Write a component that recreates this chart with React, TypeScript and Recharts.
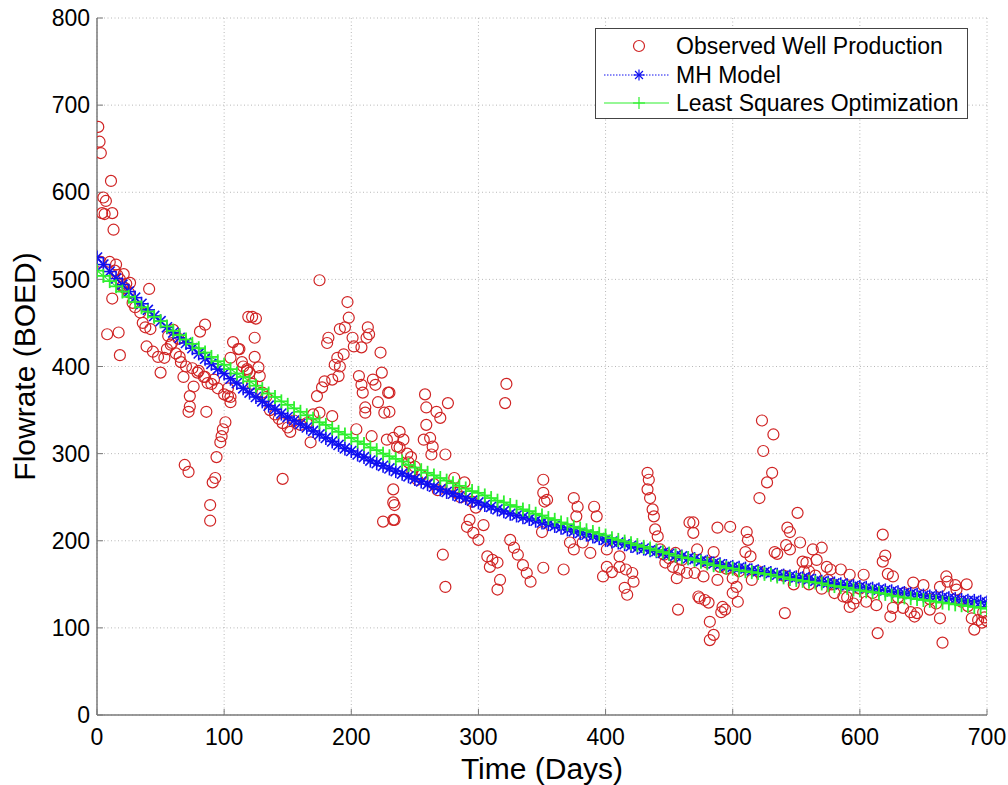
import React from 'react';
import { ComposedChart, Scatter, Line, XAxis, YAxis, CartesianGrid } from 'recharts';

// observed well production, [day, BOED]
const observed: [number, number][] = [
  [1, 675], [2, 658], [3, 645], [3, 520], [4, 576], [5, 594], [6, 575], [7, 590], [8, 437], [10, 520],
  [11, 613], [12, 576], [12, 478], [13, 557], [14, 510], [15, 517], [16, 505], [17, 439], [18, 500], [18, 413],
  [20, 492], [21, 506], [22, 490], [23, 495], [25, 485], [26, 496], [28, 473], [30, 468], [34, 462], [36, 450],
  [38, 445], [39, 423], [41, 489], [42, 443], [44, 417], [48, 411], [50, 393], [53, 410], [55, 420], [56, 435],
  [58, 425], [59, 427], [60, 442], [62, 415], [64, 432], [65, 411], [66, 405], [68, 388], [69, 287], [70, 400],
  [72, 279], [72, 348], [73, 366], [73, 354], [75, 398], [76, 377], [79, 393], [80, 395], [81, 440], [84, 388],
  [85, 448], [85, 388], [86, 348], [87, 381], [89, 241], [89, 223], [90, 380], [91, 267], [92, 385], [93, 272],
  [94, 296], [95, 375], [97, 313], [98, 320], [99, 328], [100, 368], [101, 336], [103, 375], [103, 366], [105, 365],
  [105, 410], [105, 359], [107, 428], [111, 420], [112, 420], [114, 405], [115, 400], [118, 397], [118, 395], [119, 457],
  [120, 393], [122, 457], [122, 380], [124, 433], [124, 411], [125, 455], [127, 399], [128, 389], [130, 370], [133, 365],
  [136, 350], [140, 345], [143, 340], [146, 335], [146, 271], [150, 330], [152, 325], [155, 338], [160, 333], [165, 335],
  [168, 313], [170, 345], [173, 366], [175, 347], [175, 499], [177, 376], [179, 383], [181, 427], [182, 433], [185, 385],
  [185, 343], [187, 402], [189, 410], [190, 389], [191, 400], [191, 443], [194, 414], [195, 445], [197, 474], [198, 456],
  [201, 433], [202, 423], [204, 328], [206, 389], [208, 379], [208, 422], [209, 370], [211, 353], [211, 347], [212, 433],
  [213, 445], [214, 437], [216, 320], [217, 385], [219, 379], [221, 359], [223, 416], [224, 393], [225, 222], [226, 347],
  [228, 316], [229, 370], [230, 370], [230, 348], [233, 318], [233, 259], [233, 244], [233, 224], [234, 241], [234, 224],
  [236, 308], [238, 325], [238, 307], [241, 316], [244, 300], [245, 290], [247, 296], [248, 280], [250, 285], [252, 270],
  [255, 275], [257, 316], [258, 368], [259, 353], [259, 333], [262, 318], [263, 299], [264, 308], [265, 265], [267, 348],
  [268, 258], [270, 341], [272, 184], [274, 299], [274, 147], [276, 358], [278, 262], [281, 272], [283, 255], [286, 250],
  [289, 267], [291, 216], [293, 224], [295, 245], [296, 209], [298, 238], [300, 201], [304, 218], [307, 182], [309, 170],
  [311, 178], [315, 175], [315, 144], [317, 155], [321, 358], [322, 380], [325, 201], [328, 192], [331, 184], [335, 172],
  [338, 163], [341, 153], [350, 210], [351, 270], [351, 255], [351, 169], [352, 245], [354, 247], [367, 167], [372, 198],
  [375, 249], [375, 190], [377, 228], [378, 239], [382, 198], [388, 186], [391, 239], [393, 228], [398, 159], [401, 190],
  [401, 170], [405, 164], [411, 182], [411, 170], [415, 146], [416, 167], [417, 138], [421, 163], [422, 153], [433, 278],
  [433, 259], [434, 270], [435, 249], [437, 236], [438, 228], [439, 213], [441, 205], [443, 190], [446, 184], [447, 175],
  [450, 180], [453, 170], [455, 186], [456, 157], [457, 121], [458, 167], [460, 178], [464, 163], [466, 221], [469, 209],
  [469, 221], [470, 163], [472, 190], [473, 136], [474, 134], [477, 159], [478, 132], [480, 175], [481, 129], [482, 107],
  [482, 86], [485, 187], [485, 92], [488, 215], [488, 155], [490, 170], [491, 118], [492, 124], [494, 121], [495, 168],
  [498, 216], [500, 157], [500, 140], [503, 147], [504, 130], [505, 165], [510, 187], [511, 210], [512, 201], [514, 182],
  [515, 155], [520, 165], [521, 249], [523, 338], [524, 303], [527, 267], [531, 278], [532, 322], [533, 187], [535, 185],
  [540, 160], [541, 117], [542, 195], [543, 215], [545, 210], [545, 190], [548, 150], [551, 232], [553, 198], [555, 176],
  [556, 165], [558, 175], [560, 165], [560, 150], [563, 190], [565, 160], [566, 178], [570, 192], [570, 145], [574, 170],
  [575, 155], [577, 167], [578, 150], [580, 140], [585, 167], [587, 136], [590, 135], [592, 161], [592, 124], [595, 128],
  [597, 134], [600, 145], [603, 161], [605, 130], [610, 140], [613, 126], [614, 94], [618, 207], [618, 176], [620, 183],
  [622, 162], [624, 113], [626, 159], [626, 123], [630, 135], [634, 123], [635, 140], [640, 118], [642, 152], [643, 113],
  [645, 117], [650, 149], [655, 121], [655, 133], [660, 128], [663, 147], [663, 111], [665, 83], [668, 159], [669, 153],
  [675, 149], [676, 144], [680, 130], [684, 150], [685, 125], [688, 111], [690, 98], [693, 109], [696, 106], [697, 118],
  [698, 112], [700, 108],
];

// model curves sampled every 5 days (0..700)
const modelDays = Array.from({ length: 141 }, (_, i) => i * 5);

const mhRates = [
  525, 517, 509, 501, 494, 486, 479, 472, 465, 458, 452, 445, 439, 433, 427, 421, 415, 409, 403, 397,
  392, 386, 381, 375, 370, 365, 360, 355, 351, 346, 342, 338, 334, 330, 326, 322, 318, 314, 310, 306,
  303, 299, 296, 292, 289, 286, 283, 280, 277, 274, 271, 268, 265, 262, 259, 256, 254, 251, 249, 246,
  244, 241, 239, 236, 234, 231, 229, 227, 225, 223, 221, 219, 217, 215, 213, 211, 209, 207, 205, 203,
  201, 199, 198, 196, 194, 192, 191, 189, 188, 186, 185, 183, 182, 180, 179, 177, 176, 174, 173, 171,
  170, 169, 168, 166, 165, 164, 163, 161, 160, 159, 158, 157, 156, 154, 153, 152, 151, 150, 149, 148,
  147, 146, 145, 144, 143, 142, 141, 140, 139, 138, 137, 136, 136, 135, 134, 133, 132, 131, 131, 130,
  129,
];

const lsRates = [
  510, 504, 498, 492, 486, 480, 474, 468, 463, 457, 452, 446, 441, 436, 431, 426, 421, 416, 411, 406,
  402, 397, 392, 388, 383, 378, 374, 369, 365, 360, 356, 352, 348, 344, 340, 336, 333, 329, 325, 322,
  318, 314, 311, 307, 304, 300, 297, 294, 291, 287, 284, 281, 278, 275, 272, 269, 266, 263, 260, 257,
  255, 252, 249, 246, 244, 241, 239, 236, 234, 231, 229, 226, 224, 221, 219, 216, 214, 212, 210, 208,
  206, 203, 201, 199, 197, 195, 193, 191, 189, 187, 185, 183, 181, 180, 178, 176, 174, 172, 171, 169,
  168, 166, 165, 164, 163, 162, 161, 159, 158, 156, 155, 154, 153, 152, 151, 149, 148, 147, 146, 144,
  143, 142, 141, 140, 139, 137, 136, 135, 134, 133, 132, 131, 130, 129, 128, 127, 126, 125, 124, 123,
  122,
];

const xTicks = [0, 100, 200, 300, 400, 500, 600, 700];
const yTicks = [0, 100, 200, 300, 400, 500, 600, 700, 800];

const obsData = observed.map(([day, q]) => ({ day, q }));
const mhData = modelDays.map((day, i) => ({ day, mh: mhRates[i] }));
const lsData = modelDays.map((day, i) => ({ day, ls: lsRates[i] }));

const RED = '#d02424';
const BLUE = '#1010f0';
const GREEN = '#2ef02e';
const AXIS = '#7a7a7a';
const FONT = 'Arial, "Liberation Sans", Helvetica, sans-serif';

const Circle = (p: any) => (
  <circle cx={p.cx} cy={p.cy} r={5.5} fill="none" stroke={RED} strokeWidth={1.2} />
);

const Star = ({ cx, cy, r = 7, w = 1.6 }: any) => {
  const d = r * 0.72;
  return (
    <g stroke={BLUE} strokeWidth={w}>
      <line x1={cx - r} y1={cy} x2={cx + r} y2={cy} />
      <line x1={cx} y1={cy - r} x2={cx} y2={cy + r} />
      <line x1={cx - d} y1={cy - d} x2={cx + d} y2={cy + d} />
      <line x1={cx - d} y1={cy + d} x2={cx + d} y2={cy - d} />
    </g>
  );
};

const Plus = ({ cx, cy, r = 7, w = 1.8 }: any) => (
  <g stroke={GREEN} strokeWidth={w}>
    <line x1={cx - r} y1={cy} x2={cx + r} y2={cy} />
    <line x1={cx} y1={cy - r} x2={cx} y2={cy + r} />
  </g>
);

const tickStyle = { fontSize: 23, fill: '#000', fontFamily: FONT };

const YLabel = ({ viewBox }: any) => {
  const cy = viewBox.y + viewBox.height / 2;
  const cx = viewBox.x + 24;
  return (
    <text
      x={cx}
      y={cy}
      transform={`rotate(-90, ${cx}, ${cy})`}
      textAnchor="middle"
      dominantBaseline="central"
      style={{ fontSize: 30, fill: '#000', fontFamily: FONT }}
    >
      Flowrate (BOED)
    </text>
  );
};

const LegendBox = () => (
  <div
    style={{
      position: 'absolute', left: 595, top: 28, width: 371, height: 89,
      border: '1px solid #444', background: '#fff', fontFamily: FONT, fontSize: 23, color: '#000',
    }}
  >
    {[
      { label: 'Observed Well Production', kind: 'o' },
      { label: 'MH Model', kind: '*' },
      { label: 'Least Squares Optimization', kind: '+' },
    ].map((it, i) => (
      <div key={i} style={{ position: 'absolute', left: 0, top: 3 + i * 28.5, height: 28, display: 'flex', alignItems: 'center' }}>
        <svg width={78} height={28} style={{ display: 'block' }}>
          {it.kind === 'o' && <Circle cx={43} cy={14} />}
          {it.kind === '*' && (
            <g>
              <line x1={8} y1={14} x2={73} y2={14} stroke={BLUE} strokeWidth={1} strokeDasharray="1.5 1.5" />
              <Star cx={43} cy={14} r={5.5} w={1.2} />
            </g>
          )}
          {it.kind === '+' && (
            <g>
              <line x1={8} y1={14} x2={73} y2={14} stroke={GREEN} strokeWidth={1.2} />
              <Plus cx={43} cy={14} r={6} w={1.2} />
            </g>
          )}
        </svg>
        <span style={{ marginLeft: 2, whiteSpace: 'nowrap', lineHeight: '28px' }}>{it.label}</span>
      </div>
    ))}
  </div>
);

export default function App() {
  return (
    <div style={{ position: 'absolute', left: 0, top: 0, width: 1008, height: 785, background: '#fff' }}>
      <ComposedChart width={1008} height={785} margin={{ top: 18, right: 21, bottom: 0, left: 0 }}>
        <CartesianGrid stroke="#b8b8b8" strokeDasharray="1 2.5" xAxisId="bottom" yAxisId="left" />
        <XAxis
          xAxisId="bottom"
          type="number"
          dataKey="day"
          domain={[0, 700]}
          ticks={xTicks}
          allowDataOverflow
          height={70}
          tickSize={-6}
          tickMargin={20}
          stroke={AXIS}
          axisLine={{ stroke: AXIS, strokeWidth: 1.5 }}
          tickLine={{ stroke: AXIS }}
          tick={tickStyle}
          label={{ value: 'Time (Days)', position: 'insideBottom', offset: 6, style: { fontSize: 30, fill: '#000', fontFamily: FONT } }}
        />
        <XAxis
          xAxisId="top"
          orientation="top"
          type="number"
          dataKey="day"
          domain={[0, 700]}
          ticks={xTicks}
          allowDataOverflow
          height={0}
          tickSize={-6}
          tick={false}
          axisLine={{ stroke: AXIS, strokeWidth: 1.5 }}
          tickLine={{ stroke: AXIS }}
        />
        <YAxis
          yAxisId="left"
          type="number"
          domain={[0, 800]}
          ticks={yTicks}
          allowDataOverflow
          width={97}
          tickSize={-6}
          tickMargin={13}
          axisLine={{ stroke: AXIS, strokeWidth: 1.5 }}
          tickLine={{ stroke: AXIS }}
          tick={tickStyle}
          label={<YLabel />}
        />
        <YAxis
          yAxisId="right"
          orientation="right"
          type="number"
          domain={[0, 800]}
          ticks={yTicks}
          allowDataOverflow
          width={0}
          tickSize={-6}
          tick={false}
          axisLine={{ stroke: AXIS, strokeWidth: 1.5 }}
          tickLine={{ stroke: AXIS }}
        />
        <Scatter
          xAxisId="bottom"
          yAxisId="left"
          data={obsData}
          dataKey="q"
          shape={Circle}
          isAnimationActive={false}
        />
        <Line
          xAxisId="bottom"
          yAxisId="left"
          data={mhData}
          dataKey="mh"
          type="linear"
          stroke={BLUE}
          strokeWidth={1}
          strokeDasharray="1.5 1.5"
          dot={(p: any) => <Star key={`mh-${p.index}`} cx={p.cx} cy={p.cy} />}
          activeDot={false}
          isAnimationActive={false}
        />
        <Line
          xAxisId="bottom"
          yAxisId="left"
          data={lsData}
          dataKey="ls"
          type="linear"
          stroke={GREEN}
          strokeWidth={1.2}
          dot={(p: any) => <Plus key={`ls-${p.index}`} cx={p.cx} cy={p.cy} />}
          activeDot={false}
          isAnimationActive={false}
        />
      </ComposedChart>
      <LegendBox />
    </div>
  );
}
